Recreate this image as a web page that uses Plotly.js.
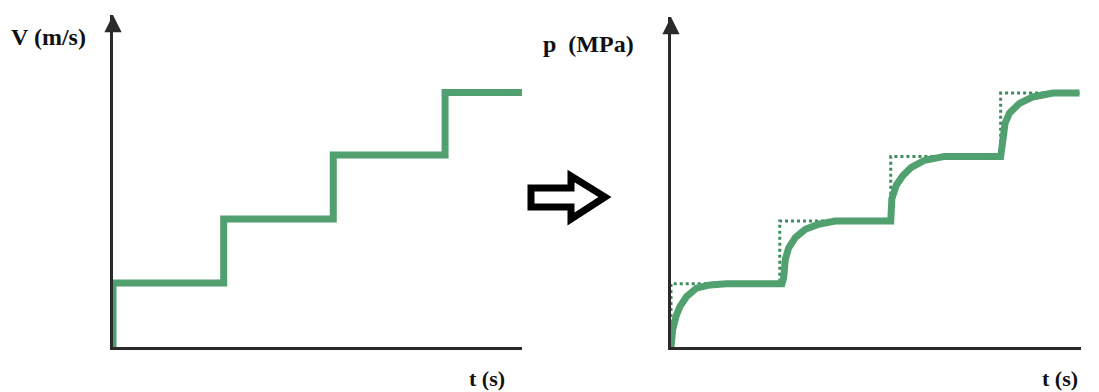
<!DOCTYPE html>
<html>
<head>
<meta charset="utf-8">
<script src="https://cdn.plot.ly/plotly-3.0.1.min.js"></script>
<style>html,body{margin:0;padding:0;background:#fff;}#chart{width:1099px;height:392px;}</style>
</head>
<body>
<div id="chart"></div>
<script>
// ---- Data ----
// Left panel: stepped velocity input
const vTime  = [0, 0, 1.0, 1.99, 3.0, 3.71];
const vValue = [0, 1.0, 2.0, 3.0, 3.98, 3.98];

// Right panel: ideal (dotted) pressure steps
const pStepTime  = [0, 0, 0.98, 1.98, 2.97, 3.68];
const pStepValue = [0, 0.99, 1.97, 2.98, 3.97, 3.97];

// Right panel: actual (smoothed) pressure response
const pTime  = [0, 0.015, 0.045, 0.08, 0.14, 0.23, 0.35, 0.50, 1.0,
                1.015, 1.03, 1.06, 1.12, 1.21, 1.33, 1.48, 1.98,
                1.99, 2.03, 2.09, 2.165, 2.285, 2.465, 2.97,
                2.99, 3.01, 3.05, 3.14, 3.26, 3.44, 3.68];
const pValue = [0, 0.27, 0.48, 0.63, 0.79, 0.92, 0.97, 0.99, 0.99,
                1.08, 1.37, 1.55, 1.71, 1.84, 1.92, 1.97, 1.97,
                2.32, 2.53, 2.68, 2.81, 2.92, 2.98, 2.98,
                3.23, 3.50, 3.66, 3.81, 3.91, 3.97, 3.97];

// Labels
const leftYLabel = 'V (m/s)';
const rightYLabel = 'p&nbsp;&nbsp;(MPa)';
const xLabel = 't (s)';

// ---- Layout helpers ----
const W = 1099, H = 392;
const GREEN = '#51a06f';
const AXIS = '#2a2a2a';
const px = x => x / W;
const py = y => 1 - y / H;

const traces = [
  {x: vTime, y: vValue, xaxis: 'x', yaxis: 'y', mode: 'lines',
   line: {color: GREEN, width: 7, shape: 'hv'}, cliponaxis: false, hoverinfo: 'skip'},
  {x: pStepTime, y: pStepValue, xaxis: 'x2', yaxis: 'y2', mode: 'lines',
   line: {color: '#3f8d5e', width: 3, dash: 'dot', shape: 'hv'}, cliponaxis: false, hoverinfo: 'skip'},
  {x: pTime, y: pValue, xaxis: 'x2', yaxis: 'y2', mode: 'lines',
   line: {color: GREEN, width: 7, shape: 'linear', simplify: false}, cliponaxis: false, hoverinfo: 'skip'}
];

const axisCommon = {showgrid: false, zeroline: false, showticklabels: false, ticks: '',
  showline: true, linecolor: AXIS, linewidth: 3, layer: 'below traces', fixedrange: true};

const xL = [0, 3.695], yL = [0, 5.19];
const xR = [0, 3.694], yR = [0, 5.16];

const labelFont = {family: 'Liberation Serif', size: 24, color: '#111'};
const tFont = {family: 'Liberation Serif', size: 22, color: '#111'};

const layout = {
  width: W, height: H,
  margin: {l: 0, r: 0, t: 0, b: 0},
  paper_bgcolor: '#fff', plot_bgcolor: 'rgba(0,0,0,0)',
  showlegend: false,
  xaxis: Object.assign({}, axisCommon, {domain: [px(113), px(522)], range: xL}),
  yaxis: Object.assign({}, axisCommon, {domain: [py(347), py(15)], range: yL}),
  xaxis2: Object.assign({}, axisCommon, {domain: [px(671), px(1081)], range: xR, anchor: 'y2'}),
  yaxis2: Object.assign({}, axisCommon, {domain: [py(347), py(17)], range: yR, anchor: 'x2'}),
  annotations: [
    // arrowheads
    {x: xL[1], y: 0, ax: xL[1] - 0.05, ay: 0, xref: 'x', yref: 'y', axref: 'x', ayref: 'y',
     showarrow: true, arrowhead: 2, arrowsize: 1.15, arrowwidth: 3, arrowcolor: AXIS, text: ''},
    {x: 0, y: yL[1], ax: 0, ay: yL[1] - 0.1, xref: 'x', yref: 'y', axref: 'x', ayref: 'y',
     showarrow: true, arrowhead: 2, arrowsize: 1.15, arrowwidth: 3, arrowcolor: AXIS, text: ''},
    {x: xR[1], y: 0, ax: xR[1] - 0.05, ay: 0, xref: 'x2', yref: 'y2', axref: 'x2', ayref: 'y2',
     showarrow: true, arrowhead: 2, arrowsize: 1.15, arrowwidth: 3, arrowcolor: AXIS, text: ''},
    {x: 0, y: yR[1], ax: 0, ay: yR[1] - 0.1, xref: 'x2', yref: 'y2', axref: 'x2', ayref: 'y2',
     showarrow: true, arrowhead: 2, arrowsize: 1.15, arrowwidth: 3, arrowcolor: AXIS, text: ''},
    // labels
    {x: px(48), y: py(37), xref: 'paper', yref: 'paper', showarrow: false, text: '<b>' + leftYLabel + '</b>',
     font: labelFont, xanchor: 'center', yanchor: 'middle'},
    {x: px(588), y: py(44), xref: 'paper', yref: 'paper', showarrow: false, text: '<b>' + rightYLabel + '</b>',
     font: labelFont, xanchor: 'center', yanchor: 'middle'},
    {x: px(487), y: py(378), xref: 'paper', yref: 'paper', showarrow: false, text: '<b>' + xLabel + '</b>',
     font: tFont, xanchor: 'center', yanchor: 'middle'},
    {x: px(1060), y: py(378), xref: 'paper', yref: 'paper', showarrow: false, text: '<b>' + xLabel + '</b>',
     font: tFont, xanchor: 'center', yanchor: 'middle'}
  ],
  shapes: [
    // hollow block arrow between panels
    {type: 'path', xref: 'paper', yref: 'paper',
     path: 'M' + px(531) + ',' + py(188) + ' L' + px(571) + ',' + py(188) + ' L' + px(571) + ',' + py(176) +
           ' L' + px(605) + ',' + py(197) + ' L' + px(571) + ',' + py(219) + ' L' + px(571) + ',' + py(207) +
           ' L' + px(531) + ',' + py(207) + ' Z',
     line: {color: '#000', width: 7}, fillcolor: '#fff', layer: 'above'}
  ]
};

Plotly.newPlot('chart', traces, layout, {staticPlot: true, displayModeBar: false});
</script>
</body>
</html>
